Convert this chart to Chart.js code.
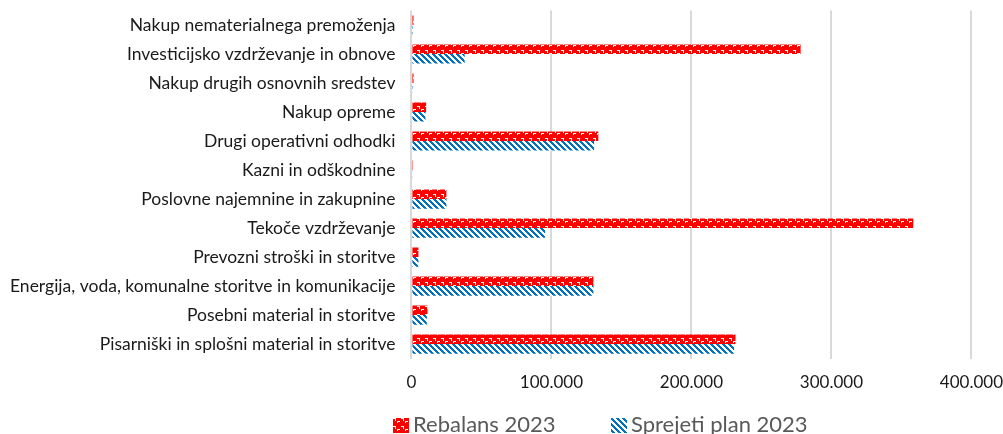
<!DOCTYPE html>
<html>
<head>
<meta charset="utf-8">
<script src="https://cdn.jsdelivr.net/npm/chart.js@4.4.1/dist/chart.umd.min.js"></script>
<style>
  html, body { margin: 0; padding: 0; background: #fff; }
  #wrap { position: relative; width: 1003px; height: 434px; }
</style>
</head>
<body>
<div id="wrap"><canvas id="chart"></canvas></div>
<script>
// categories, top to bottom
const categories = [
  'Nakup nematerialnega premoženja',
  'Investicijsko vzdrževanje in obnove',
  'Nakup drugih osnovnih sredstev',
  'Nakup opreme',
  'Drugi operativni odhodki',
  'Kazni in odškodnine',
  'Poslovne najemnine in zakupnine',
  'Tekoče vzdrževanje',
  'Prevozni stroški in storitve',
  'Energija, voda, komunalne storitve in komunikacije',
  'Posebni material in storitve',
  'Pisarniški in splošni material in storitve'
];

const rebalans2023 = [1500, 278000, 1500, 10500, 133500, 1000, 25000, 358500, 5000, 130000, 11500, 231500];
const sprejetiPlan2023 = [300, 38000, 1000, 10000, 130500, 800, 25000, 95500, 5000, 130000, 11000, 230500];

const seriesNames = ['Rebalans 2023', 'Sprejeti plan 2023'];
const xTicks = [0, 100000, 200000, 300000, 400000];

// Excel-like fill patterns
function redPattern() {
  const c = document.createElement('canvas');
  c.width = 8; c.height = 8;
  const g = c.getContext('2d');
  g.fillStyle = '#FF0000';
  g.fillRect(0, 0, 8, 8);
  g.fillStyle = '#ffffff';
  g.fillRect(1, 2, 3, 1);
  g.fillRect(3, 3, 1, 2);
  g.fillRect(5, 5, 3, 1);
  g.fillRect(5, 6, 1, 1);
  return g.createPattern(c, 'repeat');
}

function bluePattern() {
  const c = document.createElement('canvas');
  c.width = 6; c.height = 6;
  const g = c.getContext('2d');
  g.fillStyle = '#ffffff';
  g.fillRect(0, 0, 6, 6);
  g.fillStyle = '#0070C0';
  for (let i = 0; i < 6; i++) {
    g.fillRect(i, i, 3, 1);
    g.fillRect(i - 6, i, 3, 1);
  }
  return g.createPattern(c, 'repeat');
}

function fmt(v) {
  return v.toString().replace(/\B(?=(\d{3})+(?!\d))/g, '.');
}

// legend drawn under the plot, placed like the Excel original
const bottomLegend = {
  id: 'bottomLegend',
  afterDraw(chart) {
    const g = chart.ctx;
    const items = [
      { x: 393, ds: chart.data.datasets[0] },
      { x: 611, ds: chart.data.datasets[1] }
    ];
    g.save();
    g.font = '22px Lato';
    g.textBaseline = 'alphabetic';
    items.forEach(it => {
      g.fillStyle = it.ds.backgroundColor;
      g.fillRect(it.x, 418, 16, 15);
      g.fillStyle = '#595959';
      g.fillText(it.ds.label, it.x + 20, 432);
    });
    g.restore();
  }
};

const ctx = document.getElementById('chart').getContext('2d');

new Chart(ctx, {
  type: 'bar',
  data: {
    labels: categories,
    datasets: [
      {
        label: seriesNames[0],
        data: rebalans2023,
        backgroundColor: redPattern(),
        borderWidth: 0,
        categoryPercentage: 0.66,
        barPercentage: 1.0
      },
      {
        label: seriesNames[1],
        data: sprejetiPlan2023,
        backgroundColor: bluePattern(),
        borderWidth: 0,
        categoryPercentage: 0.66,
        barPercentage: 1.0
      }
    ]
  },
  options: {
    indexAxis: 'y',
    responsive: true,
    maintainAspectRatio: false,
    animation: false,
    layout: {
      padding: { top: 10, right: 0, bottom: 41, left: 10 }
    },
    scales: {
      x: {
        min: 0,
        max: 400000,
        afterBuildTicks: (axis) => {
          axis.ticks = xTicks.map(v => ({ value: v }));
        },
        grid: {
          color: '#d9d9d9',
          lineWidth: 2,
          drawTicks: true,
          tickLength: 14,
          tickColor: 'rgba(0,0,0,0)'
        },
        border: { display: false },
        ticks: {
          padding: 0,
          color: '#1a1a1a',
          font: { family: 'Lato', size: 17 },
          callback: (v) => fmt(v)
        }
      },
      y: {
        grid: {
          display: true,
          drawOnChartArea: false,
          drawTicks: true,
          tickLength: 16,
          tickColor: 'rgba(0,0,0,0)'
        },
        border: { display: false },
        ticks: {
          padding: 0,
          color: '#1a1a1a',
          font: { family: 'Lato', size: 17.5 }
        }
      }
    },
    plugins: {
      legend: { display: false },
      tooltip: { enabled: false }
    }
  },
  plugins: [bottomLegend]
});
</script>
</body>
</html>
